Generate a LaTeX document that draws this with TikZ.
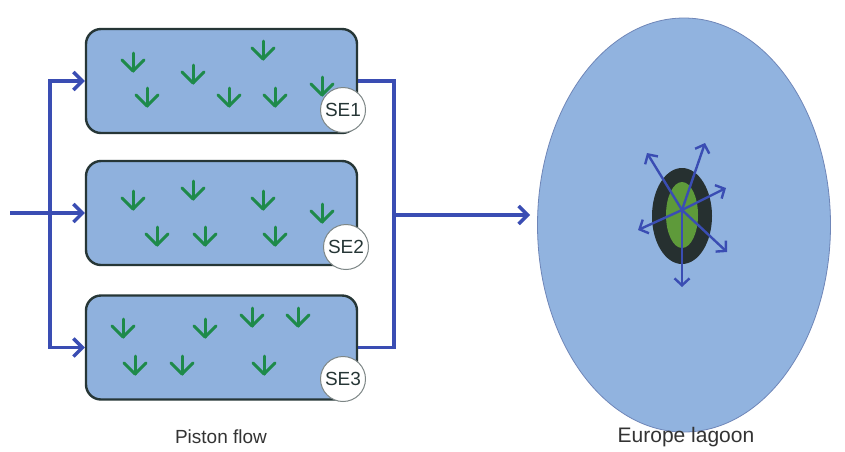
\documentclass[tikz,border=0pt]{standalone}
\usepackage{fontspec}
\setmainfont{Liberation Sans}
\usetikzlibrary{arrows.meta,shapes.geometric}
\definecolor{tankfill}{HTML}{8FB1DD}
\definecolor{tankedge}{HTML}{263636}
\definecolor{flow}{HTML}{3A4DB3}
\definecolor{plant}{HTML}{1E8A4A}
\definecolor{lagfill}{HTML}{91B3DF}
\definecolor{lagedge}{HTML}{6F86B8}
\definecolor{core}{HTML}{263030}
\definecolor{algae}{HTML}{5E9A3A}
\begin{document}
\begin{tikzpicture}[x=1pt,y=-1pt,
  tank/.style={draw=tankedge,fill=tankfill,line width=2.4pt,rounded corners=15pt,minimum width=271pt,minimum height=104pt,inner sep=0pt},
  se/.style={circle,draw=tankedge!60,fill=white,line width=1pt,minimum size=45pt,inner sep=0pt,font=\fontsize{19}{19}\selectfont,text=tankedge},
  conn/.style={draw=flow,line width=3.4pt},
  harrow/.style={conn,-{Straight Barb[length=9pt,width=18pt,line width=3.4pt]}},
  radial/.style={draw=flow,line width=2.4pt,-{Straight Barb[length=7pt,width=15pt,line width=2.4pt]}},
  lbl/.style={font=\fontsize{19}{19}\selectfont,text=black!80},
  pics/sprout/.style={code={
    \draw[plant,line width=3pt,line cap=round] (0,-9) -- (0,9);
    \draw[plant,line width=3pt,line cap=round,line join=round] (-11,-2) -- (0,9) -- (11,-2);
  }}]
\useasboundingbox (0,0) rectangle (845,451);
\fill[white] (0,0) rectangle (845,451);
% tanks
\node[tank] (b1) at (221.5,81) {};
\node[tank] (b2) at (221.5,213) {};
\node[tank] (b3) at (221.5,347.5) {};
% plants
\foreach \p in {(133,62),(193,74),(263,50),(147,97),(229,97),(275,97),(322,86),
                (133,200),(193,190),(263,200),(322,213),(157,236),(205,236),(275,236),
                (123,328),(205,328),(252,317),(298,317),(135,365),(182,365),(264,365)}
  \pic at \p {sprout};
% SE circles
\node[se] (s1) at (343,110) {SE1};
\node[se] (s2) at (346,247) {SE2};
\node[se] (s3) at (343,379) {SE3};
% inflow
\coordinate (in) at (10,213);
\coordinate (split) at (50,213);
\draw[harrow] (in) -- (b2.west);
\draw[harrow] (split) |- (b1.west);
\draw[harrow] (split) |- (b3.west);
% outflow
\coordinate (jn) at (394,215);
\coordinate (lagin) at (530,215);
\draw[conn] (b1.east) -| (jn) |- (b3.east);
\draw[harrow] (jn) -- (lagin);
% lagoon
\node[ellipse,draw=lagedge,fill=lagfill,line width=0.8pt,minimum width=293pt,minimum height=414pt,inner sep=0pt] (lag) at (684,225) {};
\fill[core] (682,216) ellipse [x radius=30, y radius=48];
\fill[algae] (682,215) ellipse [x radius=16, y radius=33];
\coordinate (c) at (682,210);
\coordinate (r1) at (647,153);
\coordinate (r2) at (705,143);
\coordinate (r3) at (726,188);
\coordinate (r4) at (727,252);
\coordinate (r5) at (682,287);
\coordinate (r6) at (638,230);
\foreach \r in {r1,r2,r3,r4,r5,r6} \draw[radial] (c) -- (\r);
% labels
\node[lbl] (l1) at (221,437) {Piston flow};
\node[lbl,font=\fontsize{21}{21}\selectfont] (l2) at (686,437) {Europe lagoon};
\end{tikzpicture}
\end{document}
